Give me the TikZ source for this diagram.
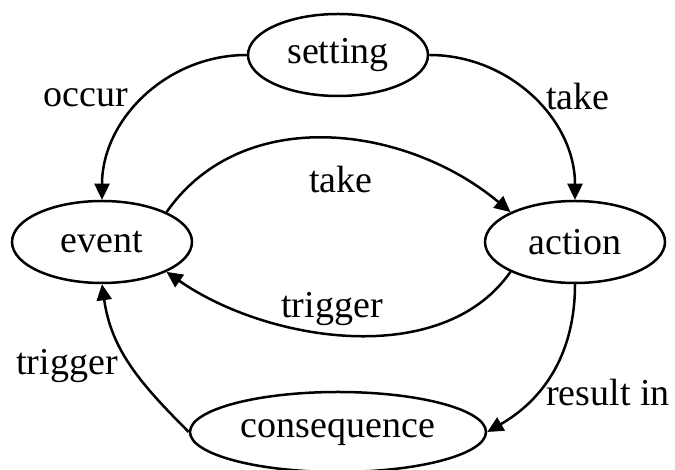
\documentclass[tikz,border=0pt]{standalone}
\usepackage{fontspec}
\setmainfont{Liberation Serif}
\usetikzlibrary{shapes.geometric,arrows.meta}
\begin{document}
\begin{tikzpicture}[x=1pt,y=1pt,
  every node/.style={font=\fontsize{38}{40}\selectfont},
  state/.style={draw, ellipse, line width=2.5pt, inner sep=0pt,
                minimum width=180pt, minimum height=82pt},
  arr/.style={line width=2.5pt, -{Triangle[length=16pt,width=15pt]}},
  lbl/.style={inner sep=0pt}]
\useasboundingbox (0,0) rectangle (675,470);

% states
\node[state] (setting) at (338,415) {setting};
\node[state] (event) at (102,228) {event};
\node[state] (action) at (575,228) {action};
\node[state, minimum width=296pt, minimum height=80pt] (consequence) at (338,38) {consequence};

% transitions
\draw[arr] (setting.west) to[out=180,in=90] (event.north);
\draw[arr] (setting.east) to[out=0,in=90] (action.north);
\draw[arr] (event.north east) to[out=55,in=140] (action.north west);
\draw[arr] (action.south west) to[out=235,in=-35,looseness=0.9] (event.south east);
\draw[arr] (consequence.west) to[out=135,in=-82] (event.south);
\draw[arr] (action.south) to[out=-90,in=30] (consequence.east);

% transition labels
\node[lbl] (l-occur) at (86,372) {occur};
\node[lbl] (l-take1) at (578,373) {take};
\node[lbl] (l-take2) at (341,290) {take};
\node[lbl] (l-trig1) at (332,161) {trigger};
\node[lbl] (l-trig2) at (67,104) {trigger};
\node[lbl] (l-result) at (608,77) {result in};
\end{tikzpicture}
\end{document}
